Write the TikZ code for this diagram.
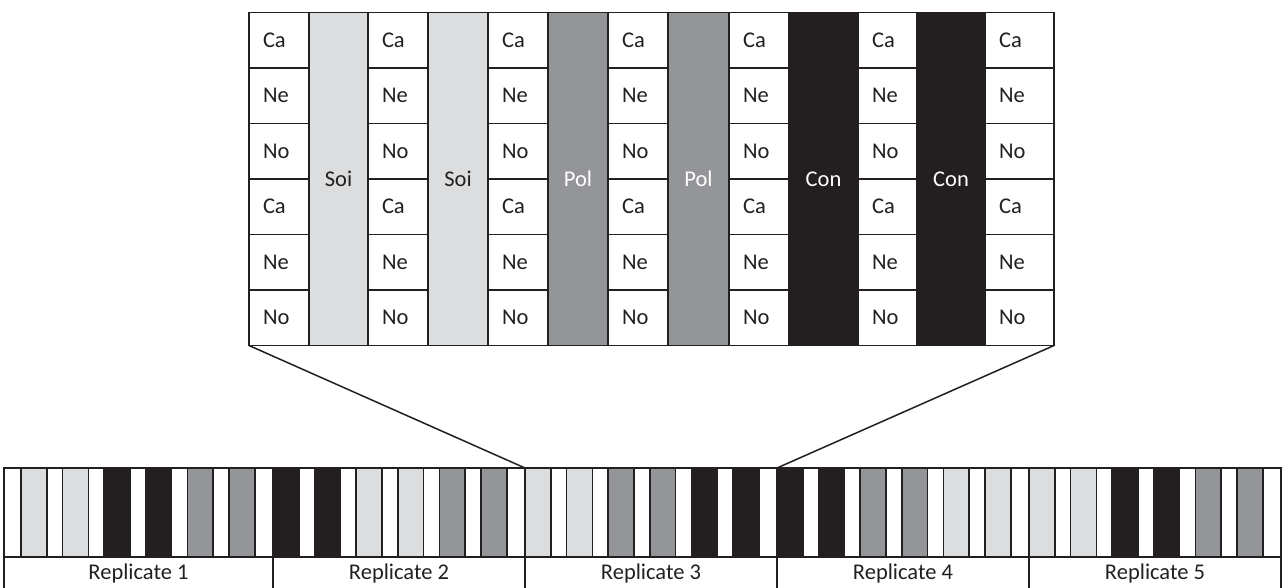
\documentclass[tikz,border=0pt]{standalone}
\usepackage{fontspec}
\setmainfont{Carlito}
\definecolor{soi}{HTML}{DCDDDF}
\definecolor{pol}{HTML}{939598}
\definecolor{con}{HTML}{231F20}
\definecolor{ink}{HTML}{231F20}
\begin{document}
\begin{tikzpicture}[x=1pt,y=-1pt,
  line width=1.5pt,
  every node/.style={font=\fontsize{22.5}{26}\selectfont, inner sep=0pt, outer sep=0pt},
  cell/.style={draw=ink, fill=white, align=left, inner xsep=14pt, text=ink},
  band/.style={draw=ink, minimum height=333pt},
  stripcol/.style={draw=ink, minimum height=89pt},
  labcell/.style={minimum height=31pt, text=ink}]
\useasboundingbox (0,0) rectangle (1284,588);

% ---- top enlarged grid: shaded bands ----
\foreach \l/\r/\c/\tc/\lab [count=\i] in {309/368/soi/ink/Soi, 428/488/soi/ink/Soi, 548/608/pol/white/Pol, 668/729/pol/white/Pol, 789/858/con/white/Con, 917/985/con/white/Con}{
  \pgfmathsetmacro\cx{(\l+\r)/2}
  \pgfmathsetmacro\w{\r-\l}
  \node[band, fill=\c, text=\tc, minimum width=\w pt] (s\i) at (\cx,179) {\lab};
}
% ---- top enlarged grid: white cells ----
\foreach \l/\r [count=\i] in {249/309,368/428,488/548,608/668,729/789,858/917,985/1054}{
  \pgfmathsetmacro\tw{\r-\l-28}
  \pgfmathsetmacro\cx{(\l+\r)/2}
  \foreach \lab [count=\j] in {Ca,Ne,No,Ca,Ne,No}{
    \pgfmathsetmacro\cy{12.5+55.5*(\j-0.5)}
    \node[cell, text width=\tw pt, minimum height=55.5pt] (c\i-\j) at (\cx,\cy) {\lab};
  }
}

% ---- bottom strip ----
\node[stripcol, fill=white, minimum width=17pt] (w0) at (12.5,512.5) {};
\foreach \k/\ca/\cb/\cc in {0/soi/con/pol, 1/con/soi/pol, 2/soi/pol/con, 3/con/pol/soi, 4/soi/con/pol}{
  \foreach \p/\col in {0/\ca,1/\ca,2/\cb,3/\cb,4/\cc,5/\cc}{
    \pgfmathsetmacro\bx{21+252*\k+41.6*\p+12.9}
    \node[stripcol, fill=\col, minimum width=25.8pt] (b\k-\p) at (\bx,512.5) {};
    \pgfmathsetmacro\ww{\p==5 ? 18.2 : 15.8}
    \pgfmathsetmacro\wx{21+252*\k+41.6*\p+25.8+\ww/2}
    \node[stripcol, fill=white, minimum width=\ww pt] (w\k-\p) at (\wx,512.5) {};
  }
}

% ---- replicate labels ----
\foreach \l/\r/\n [count=\i] in {4/273/1, 273/525/2, 525/777/3, 777/1029/4, 1029/1281/5}{
  \pgfmathsetmacro\cx{(\l+\r)/2}
  \pgfmathsetmacro\w{\r-\l}
  \node[labcell, minimum width=\w pt] (r\i) at (\cx,573) {Replicate \n};
  \draw[ink] (r\i.north west) -- (r\i.south west);
}
\draw[ink] (r5.north east) -- (r5.south east);

% ---- zoom lines ----
\draw[ink] (c1-6.south west) -- (b2-0.north west);
\draw[ink] (c7-6.south east) -- (w2-5.north east);
\end{tikzpicture}
\end{document}
